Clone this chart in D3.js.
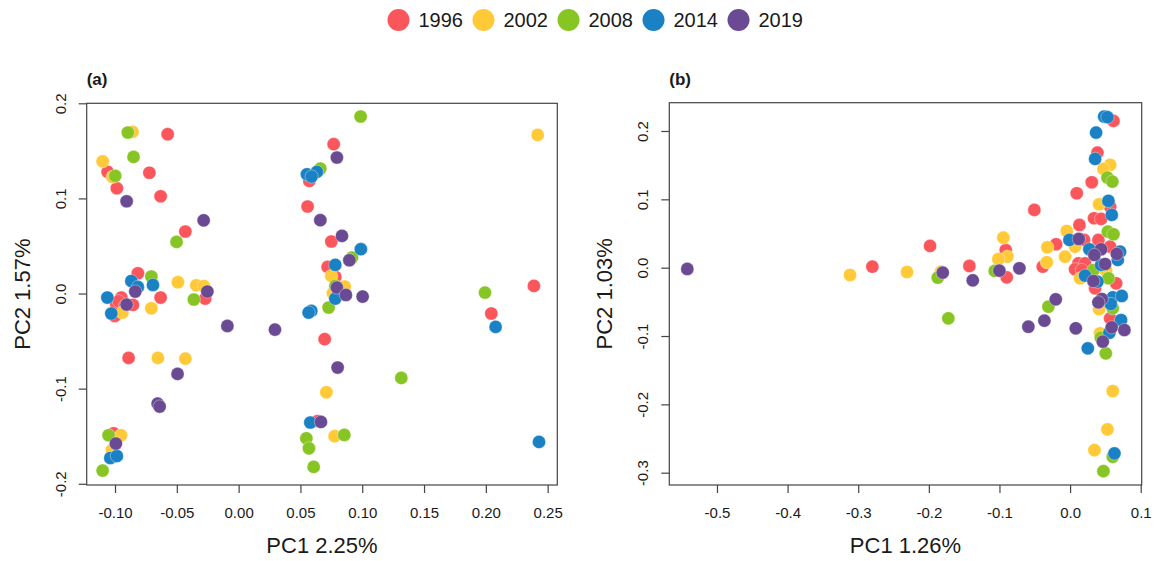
<!DOCTYPE html>
<html>
<head>
<meta charset="utf-8">
<script src="https://cdn.jsdelivr.net/npm/d3@7"></script>
<style>
  body { margin: 0; background: #fff; }
  svg { display: block; font-family: "Liberation Sans", Arial, Helvetica, sans-serif; }
</style>
</head>
<body>
<div id="chart"></div>
<script>
// Years / legend
const years = ["1996", "2002", "2008", "2014", "2019"];
const yearColors = ["#fb565c", "#ffc938", "#87c525", "#1a82c4", "#6a4a93"];

// Panel (a) PC1 / PC2 scores per year
const a1996 = [[-0.0574,0.1675],[-0.106,0.128],[-0.0722,0.127],[-0.0985,0.1107],[-0.0631,0.1023],[-0.0431,0.0652],[-0.0815,0.0213],[-0.027,-0.0053],[-0.0631,-0.0042],[-0.0949,-0.0042],[-0.099,-0.0113],[-0.0855,-0.012],[-0.1003,-0.0236],[-0.097,-0.008],[-0.092,-0.013],[-0.089,-0.0677],[-0.1011,-0.1469],[0.0769,0.157],[0.0572,0.1184],[0.0558,0.0915],[0.075,0.0547],[0.072,0.028],[0.0782,0.0175],[0.2389,0.008],[0.2044,-0.021],[0.0696,-0.048],[0.0639,-0.134]];
const a2002 = [[-0.0858,0.170],[-0.110,0.139],[-0.102,0.1226],[-0.0491,0.0119],[-0.0342,0.0087],[-0.0281,0.0077],[-0.0706,-0.0155],[-0.0941,-0.020],[-0.0653,-0.0677],[-0.0431,-0.0684],[-0.0952,-0.149],[-0.1025,-0.1645],[0.075,0.0185],[0.0858,0.0074],[0.0763,0.0003],[0.2419,0.1668],[0.071,-0.1038],[0.0777,-0.150]];
const a2008 = [[-0.0896,0.1693],[-0.085,0.1436],[-0.0998,0.1237],[-0.0502,0.0543],[-0.0706,0.0179],[-0.0362,-0.0063],[-0.1052,-0.149],[-0.110,-0.1861],[0.0661,0.1314],[0.0917,0.0379],[0.0782,0.008],[0.0728,-0.0147],[0.0987,0.1861],[0.1993,0.001],[0.1316,-0.0887],[0.0548,-0.1522],[0.0855,-0.1487],[0.0569,-0.1627],[0.0607,-0.1823]];
const a2014 = [[-0.0868,0.0132],[-0.0815,0.0069],[-0.0693,0.009],[-0.1062,-0.0042],[-0.103,-0.021],[-0.1038,-0.1729],[-0.0985,-0.1708],[0.0553,0.1254],[0.0633,0.1279],[0.059,0.123],[0.0989,0.0466],[0.0782,0.0301],[0.0782,-0.0053],[0.0588,-0.0183],[0.0566,-0.020],[0.2079,-0.0351],[0.058,-0.1356],[0.243,-0.156]];
const a2019 = [[-0.0906,0.097],[-0.0283,0.077],[-0.0836,0.0021],[-0.0253,0.0021],[-0.0906,-0.0116],[-0.0091,-0.0341],[0.0294,-0.0379],[-0.0494,-0.0845],[-0.0655,-0.1157],[-0.0639,-0.1188],[-0.0993,-0.1577],[0.0795,0.143],[0.0661,0.0771],[0.0836,0.0606],[0.0896,0.035],[0.0795,0.0063],[0.0868,-0.0015],[0.1003,-0.0032],[0.0801,-0.0778],[0.0666,-0.135]];

// Panel (b) PC1 / PC2 scores per year
const b1996 = [[-0.28,0.0015],[-0.1983,0.0318],[-0.1426,0.0025],[-0.0506,0.0845],[-0.0911,0.0259],[-0.0897,-0.0141],[-0.0387,0.0015],[0.0614,0.2148],[0.0387,0.1684],[0.0307,0.125],[0.0094,0.1089],[0.0567,0.0893],[0.034,0.0723],[0.0439,0.0713],[0.0132,0.0625],[0.0198,0.0406],[-0.0198,0.0343],[0.0401,0.0406],[0.0567,0.0307],[0.0118,0.0064],[0.0212,0.0064],[0.0071,-0.0023],[0.0166,-0.0034],[0.0652,-0.0229],[0.0354,-0.0302],[0.0567,-0.0741]];
const b2002 = [[-0.3116,-0.0107],[-0.2309,-0.0063],[-0.1827,-0.0059],[-0.0945,0.0439],[-0.0888,0.0161],[-0.1016,0.0127],[-0.033,0.0079],[0.0567,0.1504],[0.0472,0.1445],[0.0411,0.0928],[-0.0047,0.0537],[0.0071,0.0307],[-0.0322,0.0299],[-0.0071,0.0161],[0.051,-0.0044],[0.0142,-0.0155],[0.0411,-0.0605],[0.0425,-0.096],[0.0604,-0.1805],[0.0529,-0.2366],[0.0345,-0.2669]];
const b2008 = [[-0.1874,-0.0146],[-0.1067,-0.0048],[-0.0307,-0.0571],[-0.1724,-0.0741],[0.0529,0.1318],[0.0599,0.1259],[0.0534,0.0527],[0.0614,0.0489],[0.033,-0.0034],[0.0543,-0.0155],[0.0604,-0.0594],[0.0435,-0.1025],[0.0506,-0.1253],[0.0604,-0.2767],[0.0472,-0.2977]];
const b2014 = [[0.0482,0.2211],[0.0529,0.2202],[0.0368,0.1977],[0.0354,0.1592],[0.0543,0.0977],[0.059,0.0772],[-0.001,0.0406],[0.0273,0.0269],[0.0708,0.0234],[0.0675,0.0113],[0.0439,0.004],[0.0212,-0.0117],[0.0387,-0.0205],[0.0604,-0.0434],[0.0732,-0.0414],[0.0576,-0.0531],[0.0722,-0.0766],[0.0557,-0.0952],[0.0251,-0.118],[0.0628,-0.2718]];
const b2019 = [[-0.542,-0.0019],[-0.1803,-0.0073],[-0.1378,-0.0185],[-0.1001,-0.0044],[-0.0718,-0.0009],[-0.0203,-0.0463],[-0.0591,-0.0864],[-0.0364,-0.0776],[0.0081,-0.0887],[0.0123,0.042],[0.0439,0.0269],[0.0344,0.0186],[0.0661,0.0201],[0.0496,0.0054],[0.033,-0.0195],[0.0449,-0.0458],[0.0401,-0.0507],[0.059,-0.0873],[0.0769,-0.0912],[0.0463,-0.1083]];

// Tick values
const aXTicks = [-0.10, -0.05, 0.00, 0.05, 0.10, 0.15, 0.20, 0.25];
const aYTicks = [-0.2, -0.1, 0.0, 0.1, 0.2];
const bXTicks = [-0.5, -0.4, -0.3, -0.2, -0.1, 0.0, 0.1];
const bYTicks = [-0.3, -0.2, -0.1, 0.0, 0.1, 0.2];

const width = 1154, height = 561;
const textColor = "#1a1a1a";
const axisColor = "#444";

// R style labels use a plain hyphen for negatives
const fmt = (spec) => {
    const f = d3.format(spec);
    return d => f(d).replace("\u2212", "-");
};

const svg = d3.select("#chart").append("svg")
    .attr("width", width)
    .attr("height", height);

// Legend
const legendX = d3.scaleLinear().domain([0, 4]).range([398.5, 738.5]);
const legend = svg.append("g").attr("class", "legend");
const items = legend.selectAll("g").data(years).enter().append("g")
    .attr("transform", (d, i) => `translate(${legendX(i)}, 20)`);
items.append("circle").attr("r", 11).attr("fill", (d, i) => yearColors[i]);
items.append("text").attr("x", 20).attr("y", 7).attr("font-size", "20px").attr("fill", textColor).text(d => d);

function drawPanel(opts) {
    const { left, right, top, bottom, xDomain, yDomain, xTicks, yTicks, xFmt, yFmt, label, xTitle, yTitle, series } = opts;
    const x = d3.scaleLinear().domain(xDomain).range([left, right]);
    const y = d3.scaleLinear().domain(yDomain).range([bottom, top]);
    const g = svg.append("g");

    // points, drawn year by year
    series.forEach((pts, i) => {
        g.append("g").selectAll("circle").data(pts).enter().append("circle")
            .attr("cx", d => x(d[0]))
            .attr("cy", d => y(d[1]))
            .attr("r", 6.6)
            .attr("fill", yearColors[i])
            .attr("stroke", "#fff")
            .attr("stroke-opacity", 0.6)
            .attr("stroke-width", 0.6);
    });

    // box
    g.append("rect")
        .attr("x", left).attr("y", top)
        .attr("width", right - left).attr("height", bottom - top)
        .attr("fill", "none").attr("stroke", axisColor).attr("stroke-width", 1.2);

    // x axis
    const xAxis = d3.axisBottom(x).tickValues(xTicks).tickSize(8).tickPadding(14).tickFormat(xFmt);
    const xg = g.append("g").attr("transform", `translate(0,${bottom})`).call(xAxis);
    xg.select(".domain").remove();
    xg.selectAll("line").attr("stroke", axisColor).attr("stroke-width", 1.2);
    xg.selectAll("text").attr("font-size", "15px").attr("fill", textColor)
        .attr("font-family", "Liberation Sans, Arial, sans-serif");

    // y axis (labels parallel to axis)
    const yAxis = d3.axisLeft(y).tickValues(yTicks).tickSize(8).tickFormat(yFmt);
    const yg = g.append("g").attr("transform", `translate(${left},0)`).call(yAxis);
    yg.select(".domain").remove();
    yg.selectAll("line").attr("stroke", axisColor).attr("stroke-width", 1.2);
    yg.selectAll("text")
        .attr("x", null).attr("dy", null)
        .attr("font-size", "15px").attr("fill", textColor)
        .attr("font-family", "Liberation Sans, Arial, sans-serif")
        .attr("text-anchor", "middle")
        .attr("transform", "translate(-21,0) rotate(-90)");

    // titles
    g.append("text")
        .attr("x", (left + right) / 2).attr("y", 553)
        .attr("text-anchor", "middle").attr("font-size", "22px").attr("fill", textColor)
        .text(xTitle);
    g.append("text")
        .attr("transform", `translate(${left - 57},${(top + bottom) / 2}) rotate(-90)`)
        .attr("text-anchor", "middle").attr("font-size", "22px").attr("fill", textColor)
        .text(yTitle);
    g.append("text")
        .attr("x", left).attr("y", 85)
        .attr("font-size", "17px").attr("font-weight", "bold").attr("fill", textColor)
        .text(label);
}

drawPanel({
    left: 86.7, right: 557.3, top: 103.3, bottom: 485,
    xDomain: [-0.1229, 0.2578], yDomain: [-0.2013, 0.2],
    xTicks: aXTicks, yTicks: aYTicks,
    xFmt: fmt(".2f"), yFmt: fmt(".1f"),
    label: "(a)", xTitle: "PC1 2.25%", yTitle: "PC2 1.57%",
    series: [a1996, a2002, a2008, a2014, a2019]
});

drawPanel({
    left: 669.3, right: 1141.7, top: 102.7, bottom: 485,
    xDomain: [-0.5675, 0.1014], yDomain: [-0.318, 0.2414],
    xTicks: bXTicks, yTicks: bYTicks,
    xFmt: fmt(".1f"), yFmt: fmt(".1f"),
    label: "(b)", xTitle: "PC1 1.26%", yTitle: "PC2 1.03%",
    series: [b1996, b2002, b2008, b2014, b2019]
});
</script>
</body>
</html>
